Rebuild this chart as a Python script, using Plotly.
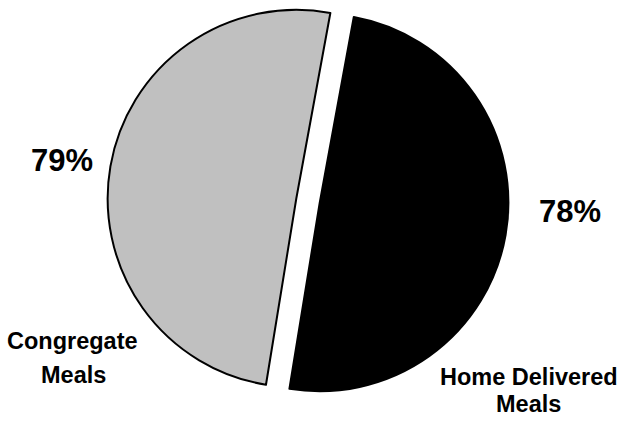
import plotly.graph_objects as go

# Data
categories = ["Home Delivered Meals", "Congregate Meals"]
values = [78, 79]
pct_labels = ["78%", "79%"]
name_lines = [["Home Delivered", "Meals"], ["Congregate", "Meals"]]

# Styles / layout
W, H = 621, 424
colors = ["#000000", "#C0C0C0"]
font_family = "Liberation Sans, Arial, sans-serif"

fig = go.Figure(go.Pie(
    labels=categories,
    values=values,
    sort=False,
    direction="clockwise",
    rotation=10.4,
    pull=[0.063, 0.063],
    marker=dict(colors=colors, line=dict(color="#000000", width=2)),
    textinfo="none",
    hoverinfo="skip",
    showlegend=False,
    domain=dict(x=[0.146, 0.846], y=[0.054, 1.0]),
))

# label placement (pixel centers)
pct_pos = [(570, 211), (62, 160)]
name_pos = [[(529, 377), (528, 404)], [(72, 341), (73, 375)]]

ann = []
for lab, (px, py) in zip(pct_labels, pct_pos):
    ann.append(dict(text=lab, x=px / W, y=1 - py / H, xref="paper", yref="paper",
                    showarrow=False, xanchor="center", yanchor="middle",
                    font=dict(family=font_family, size=31, color="#000000", weight="bold")))
for lines, poss in zip(name_lines, name_pos):
    for line, (px, py) in zip(lines, poss):
        ann.append(dict(text=line, x=px / W, y=1 - py / H, xref="paper", yref="paper",
                        showarrow=False, xanchor="center", yanchor="middle",
                        font=dict(family=font_family, size=23.5, color="#000000", weight="bold")))

fig.update_layout(
    width=W, height=H,
    margin=dict(l=0, r=0, t=0, b=0),
    paper_bgcolor="#FFFFFF",
    plot_bgcolor="#FFFFFF",
    annotations=ann,
)

fig.write_html("out.html")
